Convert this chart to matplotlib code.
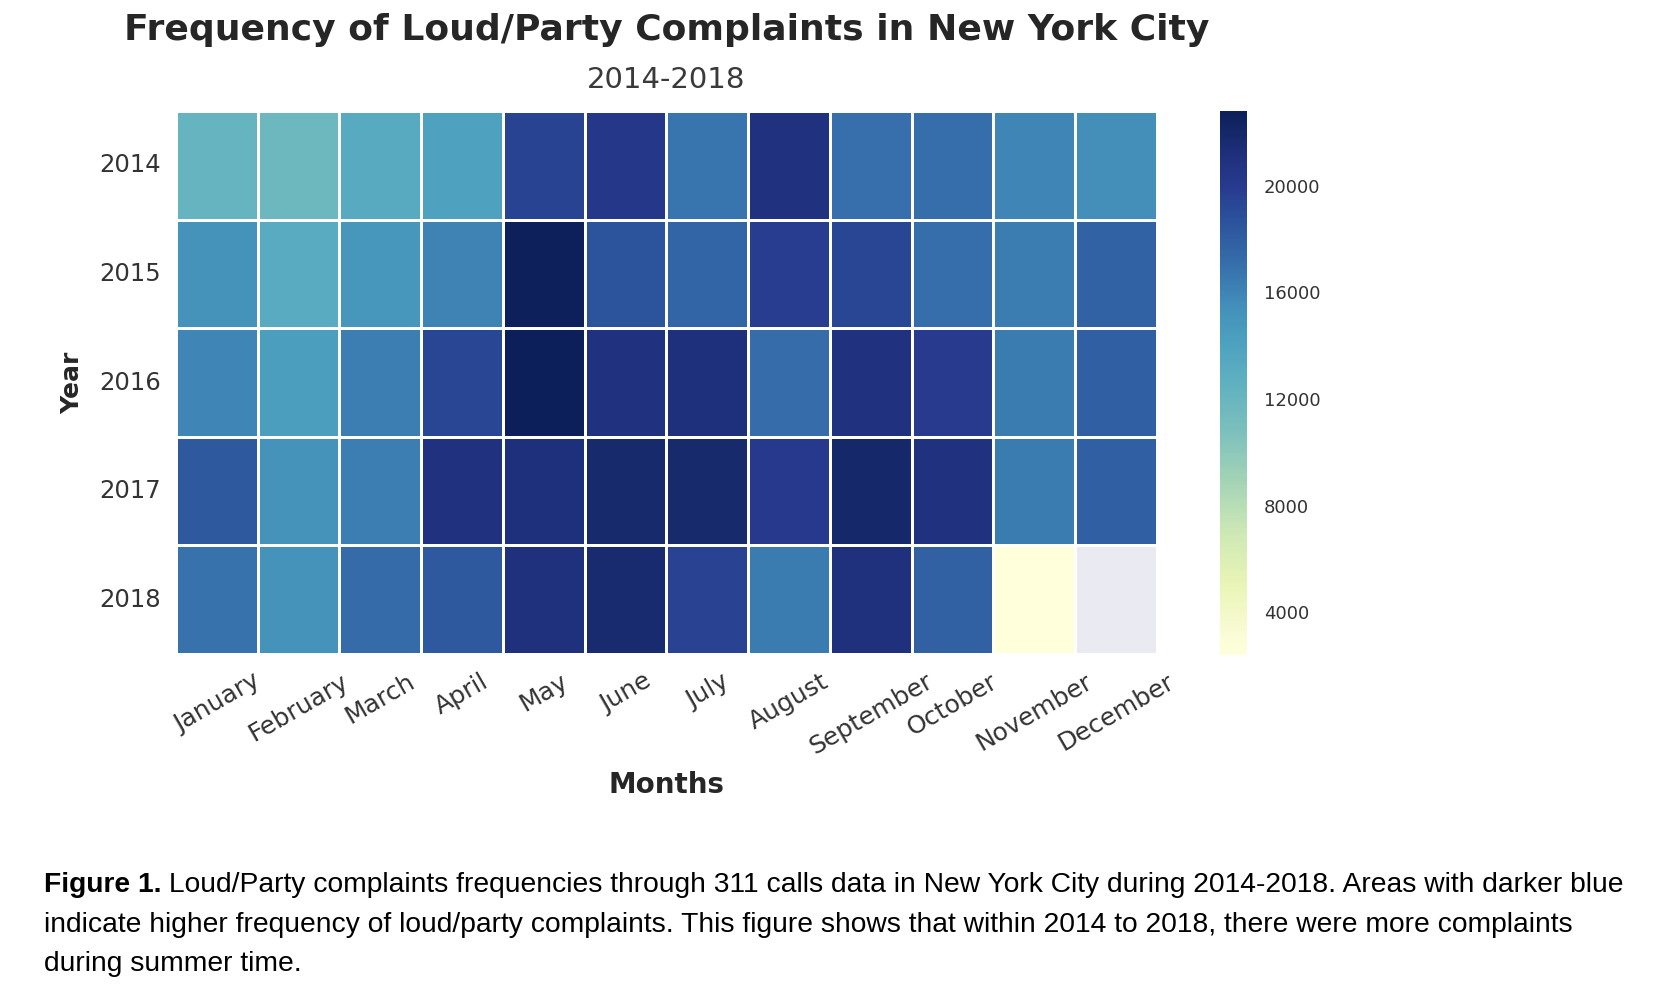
import numpy as np
import pandas as pd
import matplotlib
matplotlib.use('Agg')
import matplotlib.pyplot as plt
from matplotlib.colors import LinearSegmentedColormap
import seaborn as sns

months = ['January', 'February', 'March', 'April', 'May', 'June', 'July',
          'August', 'September', 'October', 'November', 'December']
years = ['2014', '2015', '2016', '2017', '2018']

v2014 = [12200, 11800, 13300, 14000, 19500, 20300, 16800, 21000, 17000, 17100, 16000, 15500]
v2015 = [15300, 13200, 14900, 16100, 22700, 18600, 17600, 19800, 19300, 17100, 16400, 17700]
v2016 = [15900, 14400, 16300, 19300, 22800, 21000, 21200, 17200, 21000, 20000, 16500, 17900]
v2017 = [18300, 15300, 16300, 20900, 21200, 21800, 21800, 20100, 21900, 21000, 16500, 17900]
v2018 = [16900, 15300, 17300, 18300, 21100, 21700, 19600, 16500, 21100, 17800, 2400, np.nan]

cbar_ticks = [4000, 8000, 12000, 16000, 20000]

title = 'Frequency of Loud/Party Complaints in New York City'
subtitle = '2014-2018'
cap_bold = 'Figure 1.'
cap_line1 = (' Loud/Party complaints frequencies through 311 calls data in New York City '
             'during 2014-2018. Areas with darker blue')
cap_line2 = ('indicate higher frequency of loud/party complaints. This figure shows that '
             'within 2014 to 2018, there were more complaints')
cap_line3 = 'during summer time.'

df = pd.DataFrame([v2014, v2015, v2016, v2017, v2018], index=years, columns=months)

# muted YlGnBu-like colormap as it appears in the reference image
cmap = LinearSegmentedColormap.from_list('ylgnbu_muted', [
    (0.00, '#ffffdb'), (0.04, '#f9fcd4'), (0.133, '#e8f4b5'), (0.225, '#cde8b5'),
    (0.318, '#a4d4b6'), (0.41, '#7cc0bd'), (0.505, '#5eb0c0'), (0.58, '#4ca0bf'),
    (0.642, '#438fba'), (0.715, '#3670ab'), (0.809, '#2a4f9a'), (0.863, '#283a8e'),
    (0.922, '#1e2f7c'), (0.95, '#172b6d'), (1.00, '#0c1f5a')])

sns.set_style('darkgrid')
plt.rcParams['font.family'] = ['DejaVu Sans']
txt = '#333333'

W, H = 1656, 990
fig = plt.figure(figsize=(W / 100, H / 100), dpi=100)
fig.patch.set_facecolor('white')

ax = fig.add_axes([176 / W, 1 - 654 / H, 981 / W, 543 / H])
cax = fig.add_axes([1220 / W, 1 - 655 / H, 27 / W, 544 / H])

sns.heatmap(df, cmap=cmap, linewidths=2, linecolor='white', ax=ax, cbar_ax=cax,
            cbar_kws={'ticks': cbar_ticks})
ax.set_facecolor('#EAEAF2')
ax.grid(False)

ax.set_xticklabels(months, rotation=30, ha='center', fontsize=18, color=txt)
ax.set_yticklabels(years, rotation=0, fontsize=17.5, color=txt)
ax.tick_params(axis='x', pad=11, length=0)
ax.tick_params(axis='y', pad=11, length=0)

ax.set_xlabel('Months', fontsize=20, fontweight='bold', color='#262626', va='center')
ax.xaxis.set_label_coords(0.5, -(785 - 654) / 543)
ax.set_ylabel('Year', fontsize=18, fontweight='bold', color='#262626', va='center', ha='center')
ax.yaxis.set_label_coords((72 - 176) / 981, 0.5)

cax.tick_params(labelsize=13, labelcolor=txt, length=0, pad=12)
cax.set_yticklabels([str(t) for t in cbar_ticks])
for s in cax.spines.values():
    s.set_visible(False)

fig.text(667 / W, 1 - 30 / H, title, fontsize=26, fontweight='bold', color='#262626',
         ha='center', va='center')
fig.text(666 / W, 1 - 80 / H, subtitle, fontsize=21, color='#3a3a3a', ha='center', va='center')

# caption
cap_font = 'Liberation Sans'
cap_size = 20.3
x0 = 44 / W
t_b = fig.text(x0, 1 - 885 / H, cap_bold, fontsize=cap_size, fontweight='bold', family=cap_font,
               color='black', ha='left', va='center')
fig.canvas.draw()
bb = t_b.get_window_extent(renderer=fig.canvas.get_renderer())
fig.text(bb.x1 / W, 1 - 885 / H, cap_line1, fontsize=cap_size, family=cap_font, color='black',
         ha='left', va='center')
fig.text(x0, 1 - 925 / H, cap_line2, fontsize=cap_size, family=cap_font, color='black',
         ha='left', va='center')
fig.text(x0, 1 - 964 / H, cap_line3, fontsize=cap_size, family=cap_font, color='black',
         ha='left', va='center')

fig.savefig('out.png', dpi=100, facecolor='white')
